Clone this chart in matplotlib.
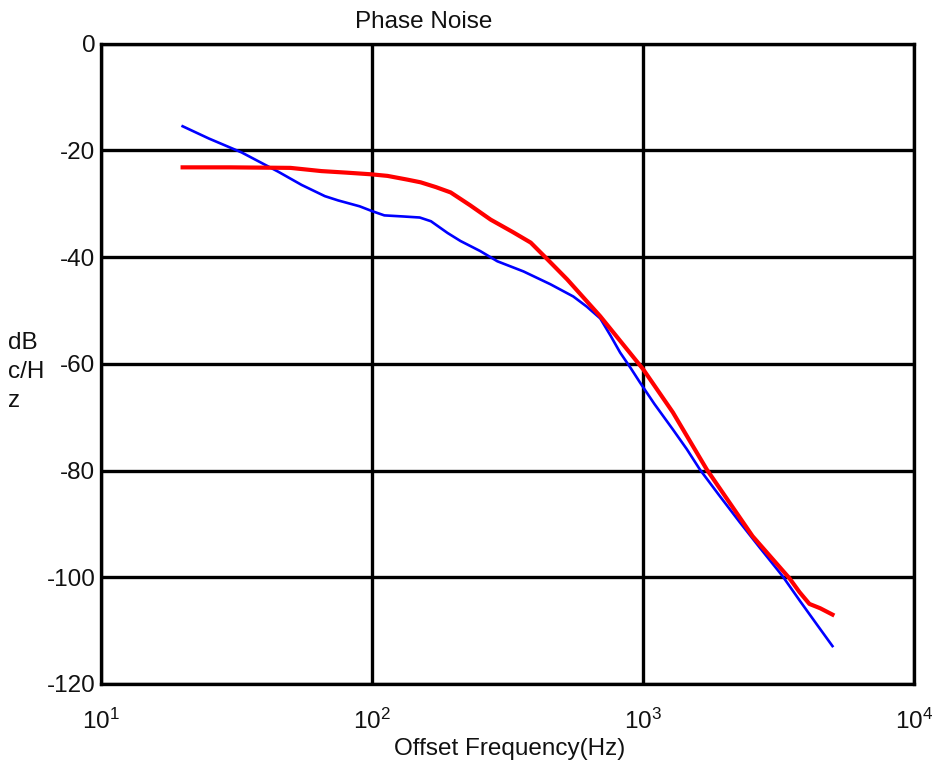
import matplotlib
matplotlib.use("Agg")
import matplotlib.pyplot as plt
from matplotlib.ticker import FixedLocator

plt.rcParams['font.family'] = ['Liberation Sans', 'DejaVu Sans']
plt.rcParams['mathtext.fontset'] = 'custom'
plt.rcParams['mathtext.rm'] = 'Liberation Sans'
plt.rcParams['mathtext.it'] = 'Liberation Sans'

# ---- data ----
blue_freq = [20, 25, 33, 45, 55, 67, 75, 90, 100, 111, 130, 150, 165, 190, 212,
             251, 290, 362, 455, 553, 620, 695, 760, 823, 900, 974, 1100, 1288,
             1450, 1620, 1900, 2275, 2700, 3273, 3800, 4400, 5000]
blue_db = [-15.5, -17.8, -20.4, -24.0, -26.5, -28.6, -29.4, -30.5, -31.4, -32.2,
           -32.4, -32.6, -33.3, -35.5, -37.0, -38.9, -40.8, -42.7, -45.1, -47.4,
           -49.3, -51.5, -54.8, -57.9, -60.8, -63.5, -67.5, -72.3, -76.0, -79.8,
           -84.5, -89.7, -94.5, -99.8, -104.5, -109.0, -112.9]

red_freq = [20, 30, 50, 65, 81, 99, 114, 135, 151, 172, 195, 230, 274, 330, 385,
            443, 525, 695, 1000, 1288, 1718, 2535, 3470, 3780, 4110, 4500, 5000]
red_db = [-23.2, -23.2, -23.3, -23.9, -24.2, -24.5, -24.8, -25.5, -26.0, -26.9,
          -27.9, -30.3, -33.0, -35.3, -37.3, -40.4, -44.2, -51.1, -61.0, -69.1,
          -79.8, -92.3, -100.2, -102.8, -105.0, -105.8, -107.0]

x_ticks = [10, 100, 1000, 10000]
y_ticks = [-120, -100, -80, -60, -40, -20, 0]
title = "Phase Noise"
xlabel = "Offset Frequency(Hz)"
ylabel = "dB\nc/H\nz"

FS = 17.5

fig = plt.figure(figsize=(9.33, 7.65), dpi=100)
ax = fig.add_axes([0.1083, 0.1059, 0.9797 - 0.1083, 0.9431 - 0.1059])

ax.plot(blue_freq, blue_db, color='#0000ff', lw=1.9, zorder=3)
ax.plot(red_freq, red_db, color='#ff0000', lw=3.0, zorder=4)

ax.set_xscale('log')
ax.set_xlim(10, 10000)
ax.set_ylim(-120, 0)
ax.xaxis.set_major_locator(FixedLocator(x_ticks))
ax.xaxis.set_minor_locator(FixedLocator([]))
ax.yaxis.set_major_locator(FixedLocator(y_ticks))
ax.set_xticklabels([r'$10^{%d}$' % i for i in range(1, 5)])
ax.set_yticklabels([str(v) for v in y_ticks])

ax.grid(True, which='major', color='black', lw=2.4, zorder=1)
ax.set_axisbelow(True)
for s in ax.spines.values():
    s.set_linewidth(2.4)
    s.set_color('black')

ax.tick_params(axis='both', which='both', length=0, labelsize=FS, colors='#111111')
ax.tick_params(axis='x', pad=18)
ax.tick_params(axis='y', pad=4)

fig.text(424 / 933, 1 - 22 / 765, title, ha='center', va='center', fontsize=FS, color='#111111')
fig.text(510 / 933, 1 - 749 / 765, xlabel, ha='center', va='center', fontsize=FS, color='#111111')
fig.text(8 / 933, 1 - 372 / 765, ylabel, ha='left', va='center', fontsize=FS, color='#111111',
         linespacing=1.4)

fig.savefig('out.png', dpi=100)
